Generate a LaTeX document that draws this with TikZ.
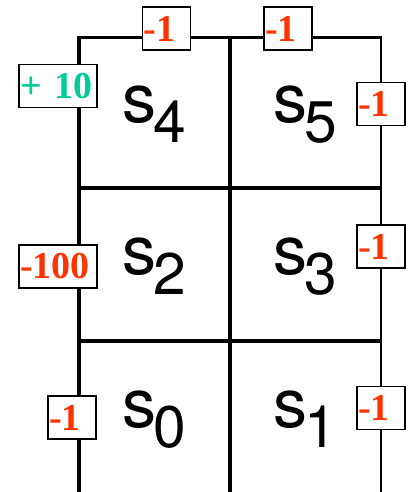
\documentclass[tikz,border=0pt]{standalone}
\usepackage{fontspec}
\usepackage{xcolor}
\usetikzlibrary{positioning}
\setmainfont{Liberation Serif}
\newfontfamily\gridsans{TeX Gyre Heros}
\definecolor{rewred}{RGB}{255,51,0}
\definecolor{rewgreen}{RGB}{0,204,153}
\newcommand{\sname}[1]{{\gridsans\fontsize{51}{51}\selectfont s\kern-2pt\raisebox{-15pt}{\fontsize{44}{44}\selectfont #1}}}

\begin{document}
\begin{tikzpicture}[
    x=0.75pt, y=-0.75pt,
    wall/.style={draw=black, line cap=rect},
    reward/.style={draw=black, line width=1.2pt, fill=white, inner xsep=0.75pt, inner ysep=0pt,
        minimum height=32pt, text width=34.5pt, align=left,
        font=\fontsize{28.5}{28.5}\selectfont\bfseries, text=rewred},
    wide/.style={text width=57pt},
    cell/.style={inner sep=0pt},
]
\useasboundingbox (0,0) rectangle (407,492);

% Grid corners
\coordinate (tl) at (79,37.7);
\coordinate (tm) at (230,37.7);
\coordinate (tr) at (380.5,37.7);
\coordinate (bl) at (79,500);
\coordinate (bm) at (230,500);
\coordinate (br) at (380.5,500);

% Walls
\draw[wall, line width=1.9pt] (tl) -- (tr);
\draw[wall, line width=3pt] (tl) -- (bl);
\draw[wall, line width=2.6pt] (tm) -- (bm);
\draw[wall, line width=1.5pt] (tr) -- (br);
\draw[wall, line width=2.6pt] (79,188) -- (380.5,188);
\draw[wall, line width=2.6pt] (79,341) -- (380.5,341);

% States
\node[cell] (s4) at (154.5,114.5) {\sname{4}};
\node[cell] (s5) at (305,114.5) {\sname{5}};
\node[cell] (s2) at (154.5,266.5) {\sname{2}};
\node[cell] (s3) at (305,266.5) {\sname{3}};
\node[cell] (s0) at (154.5,419.5) {\sname{0}};
\node[cell] (s1) at (305,419.5) {\sname{1}};

% Rewards
\node[reward] (r4top) at (166.5,28.5) {-1};
\node[reward] (r5top) at (288,28.5) {-1};
\node[reward, wide, text=rewgreen] (r4left) at (58,86) {+ 10};
\node[reward] (r5right) at (381,104) {-1};
\node[reward, wide] (r2left) at (58,266.5) {-100};
\node[reward] (r3right) at (381,246.5) {-1};
\node[reward] (r0left) at (72,417.5) {-1};
\node[reward] (r1right) at (381,408) {-1};

\end{tikzpicture}
\end{document}
